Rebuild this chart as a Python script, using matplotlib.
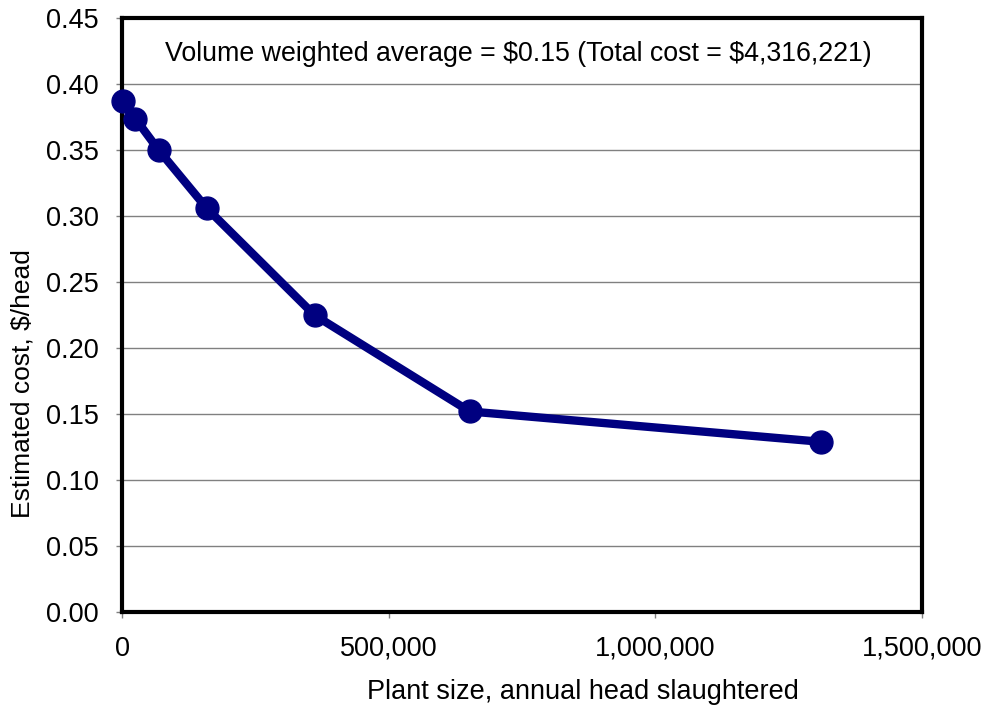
import matplotlib.pyplot as plt
from matplotlib.ticker import FuncFormatter

plt.rcParams['font.family'] = ['Liberation Sans', 'DejaVu Sans']

# plant size (annual head slaughtered) vs estimated cost ($/head)
plant_size = [1000, 25000, 69000, 159000, 361000, 652000, 1311000]
cost = [0.387, 0.374, 0.350, 0.306, 0.225, 0.152, 0.129]
note = r"Volume weighted average = \$0.15 (Total cost = \$4,316,221)"

fig = plt.figure(figsize=(9.96, 7.13), dpi=100)
ax = fig.add_axes([122/996, 1 - 612/713, 800/996, (612 - 18.3)/713])

ax.plot(plant_size, cost, color='#000080', linewidth=6, marker='o',
        markersize=16.5, solid_joinstyle='round', zorder=3, clip_on=False)

ax.set_xlim(0, 1500000)
ax.set_ylim(0, 0.45)
ax.set_xticks([0, 500000, 1000000, 1500000])
ax.set_yticks([i * 0.05 for i in range(10)])
ax.xaxis.set_major_formatter(FuncFormatter(lambda v, p: f"{int(v):,}"))
ax.yaxis.set_major_formatter(FuncFormatter(lambda v, p: f"{v:.2f}"))

ax.grid(axis='y', color='#808080', linewidth=1)
ax.set_axisbelow(True)
for s in ax.spines.values():
    s.set_linewidth(3)
    s.set_color('black')

ax.tick_params(axis='both', labelsize=19.5, length=4, width=1, color='#808080', pad=13)

# axis titles sit a bit off-centre, like in the original
ax.set_xlabel("Plant size, annual head slaughtered", fontsize=19.5, va='center')
ax.xaxis.set_label_coords(0.576, -0.134)
ax.set_ylabel("Estimated cost, $/head", fontsize=19,
              va='center', ha='center', rotation_mode='default')
ax.yaxis.set_label_coords(-0.124, 0.384)

ax.text(0.495, 0.94, note, transform=ax.transAxes, ha='center', va='center',
        fontsize=19.3)

fig.savefig('out.png', dpi=100)
